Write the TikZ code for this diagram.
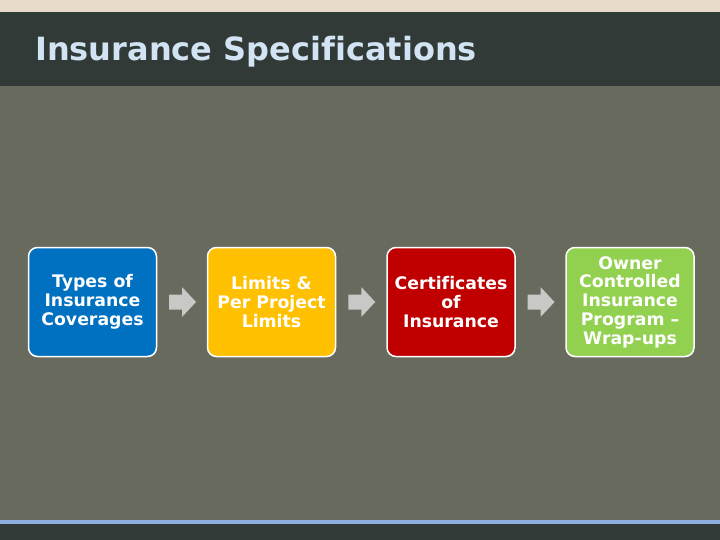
\documentclass[tikz,border=0pt]{standalone}
\usepackage{fontspec}
\setmainfont{DejaVu Sans}[Ligatures=CommonOff]
\definecolor{beige}{HTML}{E8DAC8}
\definecolor{darkband}{HTML}{323A37}
\definecolor{bggray}{HTML}{686A5E}
\definecolor{linebl}{HTML}{8DAEE0}
\definecolor{titlecol}{HTML}{D2E4F3}
\definecolor{arrgray}{HTML}{C8C8C6}
\definecolor{cblue}{HTML}{0070C0}
\definecolor{cyellow}{HTML}{FFC000}
\definecolor{cred}{HTML}{C00000}
\definecolor{cgreen}{HTML}{92D050}
\begin{document}
\begin{tikzpicture}[x=1pt,y=-1pt,
  stepbox/.style={draw=white, line width=1.5pt, rounded corners=9pt,
    minimum width=128pt, minimum height=109pt, inner sep=0pt,
    text=white, align=center,
    font=\fontsize{17.3}{18.8}\selectfont\bfseries},
  blockarrow/.style={fill=arrgray, draw=none}]
\useasboundingbox (0,0) rectangle (720,540);
\fill[beige] (0,0) rectangle (720,12);
\fill[darkband] (0,12) rectangle (720,86);
\fill[bggray] (0,86) rectangle (720,520);
\fill[linebl] (0,520) rectangle (720,524);
\fill[darkband] (0,524) rectangle (720,540);
\node[anchor=base west, inner sep=0pt, text=titlecol,
  font=\fontsize{32}{38}\selectfont\bfseries] (title) at (35,61) {Insurance Specifications};
\node[stepbox, fill=cblue] (b1) at (92.5,302) {Types of\\Insurance\\Coverages};
\node[stepbox, fill=cyellow] (b2) at (271.5,302) {Limits \&\\Per Project\\Limits};
\node[stepbox, fill=cred] (b3) at (451,302) {Certificates\\of\\Insurance};
\node[stepbox, fill=cgreen] (b4) at (630,302) {Owner\\Controlled\\Insurance\\Program --\\Wrap-ups};
\path (b1.east) -- (b2.west) coordinate[midway] (m1);
\path (b2.east) -- (b3.west) coordinate[midway] (m2);
\path (b3.east) -- (b4.west) coordinate[midway] (m3);
\foreach \m in {m1,m2,m3}{
  \fill[blockarrow, shift={(\m)}] (-13,-7.5) -- (0,-7.5) -- (0,-15) -- (14,0)
    -- (0,15) -- (0,7.5) -- (-13,7.5) -- cycle;
}
\end{tikzpicture}
\end{document}
